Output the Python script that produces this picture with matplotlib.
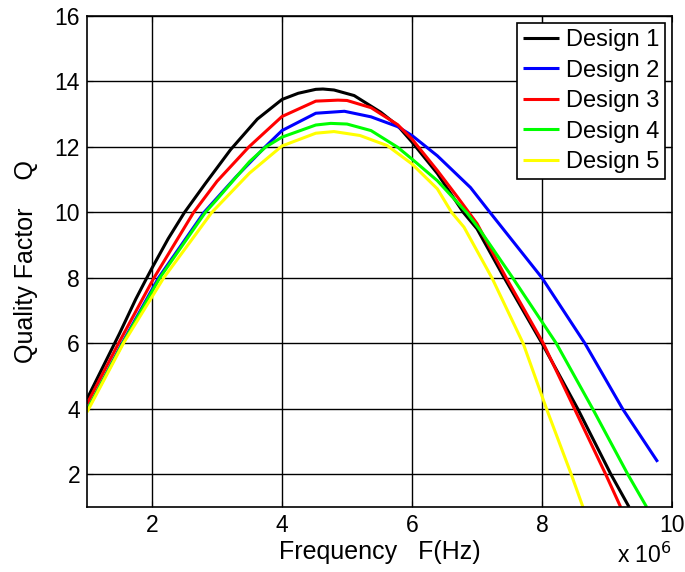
import matplotlib
matplotlib.use("Agg")
import matplotlib.pyplot as plt

plt.rcParams['font.family'] = ['Liberation Sans', 'DejaVu Sans']

# Frequency in units of 1e6 Hz
x1 = [1.0, 1.25, 1.5, 1.75, 1.92, 2.0, 2.25, 2.5, 2.82, 3.0, 3.21, 3.62, 4.0, 4.25, 4.52, 4.63, 4.8, 5.11, 5.52, 5.78, 6.0, 6.39, 6.79, 7.0, 7.42, 8.0, 8.55, 9.06, 9.34]
y1 = [4.3, 5.3, 6.3, 7.35, 8.0, 8.3, 9.2, 10.0, 10.88, 11.36, 11.92, 12.85, 13.45, 13.64, 13.76, 13.77, 13.74, 13.57, 13.06, 12.65, 12.15, 11.19, 10.0, 9.5, 8.0, 6.0, 4.0, 2.0, 1.0]

x2 = [1.0, 1.54, 2.1, 2.8, 3.3, 3.74, 4.0, 4.52, 4.96, 5.37, 5.78, 6.0, 6.39, 6.9, 7.2, 7.6, 8.0, 8.66, 9.24, 9.78]
y2 = [3.95, 6.0, 8.0, 10.0, 11.1, 12.0, 12.5, 13.03, 13.09, 12.92, 12.62, 12.35, 11.73, 10.76, 10.0, 9.0, 8.0, 6.0, 4.0, 2.38]

x3 = [1.0, 1.485, 2.03, 2.64, 3.0, 3.49, 4.0, 4.52, 4.86, 5.0, 5.37, 5.78, 6.0, 6.39, 6.7, 7.0, 7.45, 8.02, 8.5, 8.98, 9.21]
y3 = [4.15, 6.0, 8.0, 10.0, 10.95, 12.0, 12.93, 13.4, 13.43, 13.42, 13.2, 12.68, 12.24, 11.28, 10.47, 9.66, 8.0, 6.0, 4.0, 2.0, 1.0]

x4 = [1.0, 1.55, 2.12, 2.82, 3.0, 3.5, 3.75, 4.0, 4.52, 4.75, 5.0, 5.37, 5.78, 6.0, 6.39, 6.84, 7.05, 7.55, 8.22, 8.78, 9.32, 9.61]
y4 = [3.95, 6.0, 8.0, 10.0, 10.4, 11.55, 12.0, 12.3, 12.67, 12.72, 12.7, 12.5, 11.99, 11.63, 10.97, 10.0, 9.45, 8.0, 6.0, 4.0, 2.0, 1.0]

x5 = [1.0, 1.56, 2.18, 2.92, 3.5, 4.0, 4.52, 4.8, 5.2, 5.62, 6.0, 6.39, 6.61, 6.8, 7.23, 7.71, 8.07, 8.45, 8.63]
y5 = [3.9, 6.0, 8.0, 10.0, 11.2, 12.03, 12.42, 12.47, 12.35, 12.04, 11.48, 10.72, 10.0, 9.55, 8.0, 6.0, 4.0, 2.0, 1.0]

labels = ["Design 1", "Design 2", "Design 3", "Design 4", "Design 5"]
colors = ["#000000", "#0000ff", "#ff0000", "#00ff00", "#ffff00"]

xticks = [2, 4, 6, 8, 10]
yticks = [2, 4, 6, 8, 10, 12, 14, 16]

fig = plt.figure(figsize=(6.85, 5.72), dpi=100)
ax = fig.add_axes([0.127, 0.1136, 0.854, 0.8584])

for xs, ys, lab, c in zip([x1, x2, x3, x4, x5], [y1, y2, y3, y4, y5], labels, colors):
    ax.plot(xs, ys, color=c, lw=2.2, label=lab, solid_joinstyle='round', solid_capstyle='butt')

ax.set_xlim(1, 10)
ax.set_ylim(1, 16)
ax.set_xticks(xticks)
ax.set_yticks(yticks)
ax.tick_params(direction='in', labelsize=16.5, top=True, right=True, length=4, width=0.8, pad=5)
ax.grid(True, color='black', linestyle='-', linewidth=1.0)
ax.set_axisbelow(True)
for s in ax.spines.values():
    s.set_linewidth(1.2)
    s.set_color('black')

ax.set_xlabel("Frequency   F(Hz)", fontsize=18, labelpad=2)
ax.set_ylabel("Quality Factor    Q", fontsize=18, labelpad=12)

fig.text(0.94, 0.008, r"x 10$^{6}$", fontsize=16.5, ha='center', va='bottom')

leg = ax.legend(loc='upper right', fontsize=17, frameon=True, fancybox=False,
                edgecolor='black', framealpha=1, borderpad=0.25, labelspacing=0.36,
                handlelength=1.5, handletextpad=0.3, borderaxespad=0.3)
leg.get_frame().set_linewidth(1.2)

fig.savefig("out.png", dpi=100)
